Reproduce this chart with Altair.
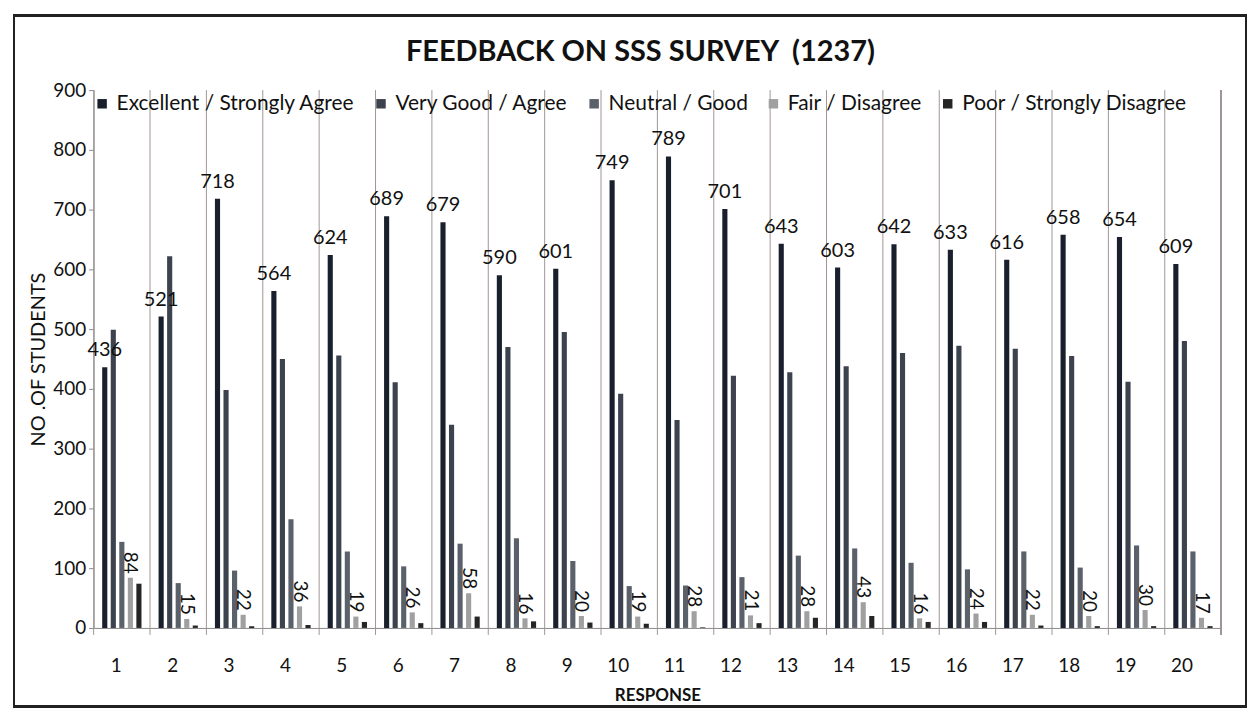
import altair as alt
import pandas as pd

responses = list(range(1, 21))
series = ["Excellent / Strongly Agree", "Very Good / Agree", "Neutral / Good",
          "Fair / Disagree", "Poor / Strongly Disagree"]
excellent = [436, 521, 718, 564, 624, 689, 679, 590, 601, 749,
             789, 701, 643, 603, 642, 633, 616, 658, 654, 609]
very_good = [499, 622, 398, 450, 456, 411, 340, 470, 495, 392,
             348, 422, 428, 438, 460, 472, 467, 455, 412, 480]
neutral = [144, 75, 96, 182, 128, 103, 141, 150, 112, 70,
           71, 85, 121, 133, 109, 98, 128, 101, 138, 128]
fair = [84, 15, 22, 36, 19, 26, 58, 16, 20, 19,
        28, 21, 28, 43, 16, 24, 22, 20, 30, 17]
poor = [74, 4, 3, 5, 10, 8, 19, 11, 9, 7,
        1, 8, 17, 20, 10, 10, 4, 3, 3, 3]
colors = ["#1a1f2d", "#3c424e", "#5a616b", "#a0a0a0", "#252525"]
chart_title = ["FEEDBACK ON SSS SURVEY\u00a0\u00a0(1237)"]

rows = []
for name, vals in zip(series, [excellent, very_good, neutral, fair, poor]):
    for r, v in zip(responses, vals):
        rows.append({"Response": r, "Series": name, "Value": v})
df = pd.DataFrame(rows)
bounds = pd.DataFrame({"Response": responses})
title_df = pd.DataFrame({"Title": chart_title})

W, H = 1132, 540
FONT = "Lato"

x_enc = alt.X("Response:O", sort=None,
              scale=alt.Scale(paddingInner=0, paddingOuter=0),
              axis=alt.Axis(title="RESPONSE", labelAngle=0, ticks=False,
                            labelFontSize=19, labelPadding=38,
                            titleFontSize=17, titleFontWeight="bold",
                            titlePadding=12, domainColor="#888888",
                            labelColor="#111111", titleColor="#111111"))
xoff = alt.XOffset("Series:N", sort=series,
                   scale=alt.Scale(domain=series, paddingInner=0.4, paddingOuter=1))
y_enc = alt.Y("Value:Q", scale=alt.Scale(domain=[0, 900]),
              axis=alt.Axis(title="NO .OF STUDENTS", values=list(range(0, 901, 100)),
                            grid=False, tickSize=5, tickColor="#888888",
                            domainColor="#888888", labelFontSize=19,
                            labelPadding=3,
                            labelColor="#111111", titleFontSize=20,
                            titleFontWeight="normal", titleColor="#111111",
                            titlePadding=4))

base = alt.Chart(df)

frame = alt.Chart(bounds).mark_rect(filled=False, stroke="#222222", strokeWidth=1.5,
                                    clip=False).encode(
    x=alt.value(-80), x2=alt.value(W + 25), y=alt.value(-75), y2=alt.value(H + 79))

title_mark = alt.Chart(title_df).mark_text(
    fontSize=29, fontWeight="bold", font=FONT, color="#111111",
    align="center", baseline="middle").encode(
    x=alt.value(W / 2 - 17), y=alt.value(-38), text="Title:N")

vlines = alt.Chart(bounds).mark_rule(color="#a09595", strokeWidth=1).encode(
    x=alt.X("Response:O", bandPosition=0), y=alt.value(0), y2=alt.value(H + 7))
vlast = alt.Chart(bounds).mark_rule(color="#a09595", strokeWidth=1).encode(
    x=alt.value(W), y=alt.value(0), y2=alt.value(H + 7))

bars = base.mark_bar().encode(
    x=x_enc, xOffset=xoff, y=y_enc,
    color=alt.Color("Series:N", sort=series,
                    scale=alt.Scale(domain=series, range=colors),
                    legend=alt.Legend(title=None, orient="none", direction="horizontal",
                                      legendX=-2, legendY=3, symbolType="square",
                                      symbolSize=90, labelFontSize=21, labelLimit=0,
                                      labelOffset=4,
                                      labelColor="#111111", columnPadding=15,
                                      symbolStrokeWidth=0, labelFont=FONT)))

top_labels = base.transform_filter(alt.datum.Series == series[0]).mark_text(
    baseline="bottom", dy=-7, fontSize=20, font=FONT, color="#111111").encode(
    x="Response:O", xOffset=xoff, y="Value:Q", text="Value:Q")

fair_labels = base.transform_filter(alt.datum.Series == series[3]).mark_text(
    angle=90, align="right", baseline="middle", yOffset=-4, fontSize=19,
    font=FONT, color="#111111").encode(
    x="Response:O", xOffset=xoff, y="Value:Q", text="Value:Q")

chart = alt.layer(frame, title_mark, vlines, vlast, bars, top_labels, fair_labels).properties(
    width=W, height=H,
    padding={"left": 5, "top": 5, "right": 5, "bottom": 4},
).configure_view(stroke=None).configure_axis(labelFont=FONT, titleFont=FONT)

chart.save("out.html", embed_options={"renderer": "svg", "actions": False})
